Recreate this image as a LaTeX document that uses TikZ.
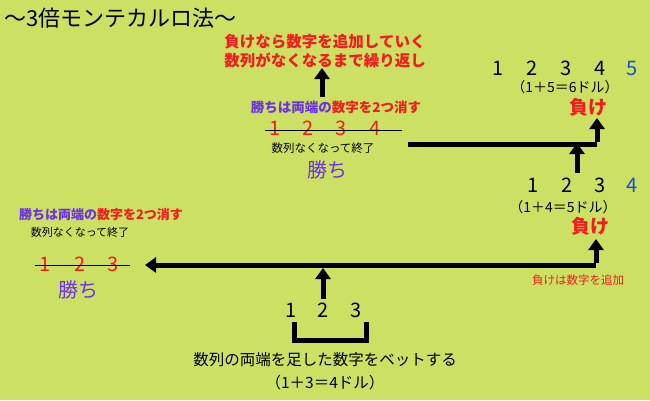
\documentclass[tikz,border=0pt]{standalone}
\usepackage{fontspec}
\setmainfont{Noto Sans CJK JP}
\usetikzlibrary{arrows.meta}
\definecolor{bg}{RGB}{204,224,100}
\definecolor{pur}{RGB}{110,50,230}
\definecolor{rd}{RGB}{240,30,30}
\definecolor{bl}{RGB}{20,80,220}
\tikzset{
 fat/.style={line width=5pt,-{Triangle[width=15pt,length=11pt]}},
 fatline/.style={line width=5pt},
 num/.style={font=\fontsize{20}{20}\selectfont,inner sep=0pt},
 t/.style={inner sep=0pt,align=center}
}
\begin{document}
\begin{tikzpicture}[x=1pt,y=-1pt]
\fill[bg] (0,0) rectangle (650,400);
\node[t,anchor=west,font=\fontsize{22}{22}\selectfont] (title) at (4,18) {〜3倍モンテカルロ法〜};
\node[t,text=rd,font=\fontsize{15.5}{19}\selectfont\bfseries] (rep) at (325,51) {負けなら数字を追加していく\\数列がなくなるまで繰り返し};
\coordinate (a1s) at (322,97);
\coordinate (a1e) at (322,68);
\draw[fat] (a1s) -- (a1e);
\node[t,font=\fontsize{13.5}{14}\selectfont\bfseries] (w1) at (336,107) {\textcolor{pur}{勝ちは両端の}\textcolor{rd}{数字を2つ消す}};
\foreach \x/\n in {275/1,308/2,341/3,375/4}{\node[num,text=rd] (r\n) at (\x,128) {\n};}
\draw[thick] (265,130) -- (402,130);
\node[t,font=\fontsize{11.5}{12}\selectfont] (e1) at (323,148) {数列なくなって終了};
\node[t,text=pur,font=\fontsize{20}{20}\selectfont] (k1) at (327,170) {勝ち};
% top right
\foreach \x/\n in {498/1,532/2,566/3,600/4}{\node[num] (ta\n) at (\x,68) {\n};}
\node[num,text=bl] (ta5) at (632,68) {5};
\node[t,font=\fontsize{14}{14}\selectfont] (tb) at (565,87) {（1＋5＝6ドル）};
\node[t,text=rd,font=\fontsize{19}{19}\selectfont\bfseries] (lose2) at (588,107) {負け};
\coordinate (c1) at (408,144);
\coordinate (c2) at (597,144);
\draw[fatline] (c1) -- (c2);
\draw[fat] ([yshift=2.5pt]c2) -- (597,118);
% middle right
\foreach \x/\n in {533/1,567/2,600/3}{\node[num] (ma\n) at (\x,185) {\n};}
\node[num,text=bl] (ma4) at (632,185) {4};
\node[t,font=\fontsize{14}{14}\selectfont] (mb) at (563,207) {（1＋4＝5ドル）};
\node[t,text=rd,font=\fontsize{19}{19}\selectfont\bfseries] (lose1) at (590,226) {負け};
\draw[fat] (577,173) -- (577,143);
% main line
\coordinate (d1) at (596,265);
\draw[fat] (d1) -- (145,265);
\draw[fat] ([yshift=2.5pt]d1) -- (596,239);
\node[t,text=rd,font=\fontsize{11.5}{12}\selectfont] (add) at (578,280) {負けは数字を追加};
% bottom
\draw[fat] (323,299) -- (323,268);
\foreach \x/\n in {291/1,323/2,356/3}{\node[num] (b\n) at (\x,310) {\n};}
\draw[fatline,line join=miter] (294,322) -- (294,340) -- (366,340) -- (366,322);
\node[t,font=\fontsize{15.5}{16}\selectfont] (bet) at (325,360) {数列の両端を足した数字をベットする};
\node[t,font=\fontsize{15.5}{16}\selectfont] (bet2) at (325,383) {（1＋3＝4ドル）};
% left
\node[t,font=\fontsize{13}{13}\selectfont\bfseries] (w2) at (101,215) {\textcolor{pur}{勝ちは両端の}\textcolor{rd}{数字を2つ消す}};
\node[t,font=\fontsize{11}{11}\selectfont] (e2) at (80,232) {数列なくなって終了};
\foreach \x/\n in {45/1,80/2,113/3}{\node[num,text=rd] (l\n) at (\x,264) {\n};}
\draw[thick] (35,265) -- (130,265);
\node[t,text=pur,font=\fontsize{20}{20}\selectfont] (k2) at (78,290) {勝ち};
\end{tikzpicture}
\end{document}
